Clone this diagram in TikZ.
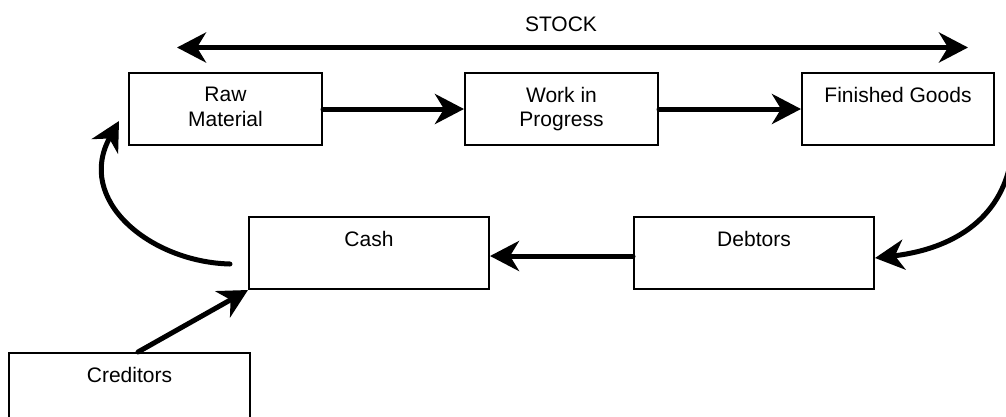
\documentclass[tikz,border=0pt]{standalone}
\usepackage{fontspec}
\setmainfont{Liberation Sans}
\usetikzlibrary{arrows.meta}
\begin{document}
\begin{tikzpicture}[x=1pt,y=-1pt,
  box/.style={draw=black, line width=2pt, rectangle, inner sep=0pt, anchor=north west},
  txt/.style={anchor=north, inner sep=0pt, align=center, font=\fontsize{21}{24.5}\selectfont, yshift=-15pt},
  flow/.style={line width=5pt, line cap=round, -{Stealth[length=29pt,width=30pt,inset=9pt]}},
  both/.style={line width=5pt, {Stealth[length=29pt,width=30pt,inset=9pt]}-{Stealth[length=29pt,width=30pt,inset=9pt]}}]
\clip (0,0) rectangle (1006,416);
\fill[white] (0,0) rectangle (1006,416);
% boxes
\node[box, minimum width=193pt, minimum height=72pt] (raw) at (128,72) {};
\node[box, minimum width=193pt, minimum height=72pt] (wip) at (464,72) {};
\node[box, minimum width=192pt, minimum height=72pt] (fg) at (801,72) {};
\node[box, minimum width=240pt, minimum height=72pt] (cash) at (248,216) {};
\node[box, minimum width=240pt, minimum height=72pt] (deb) at (633,216) {};
\node[box, minimum width=241pt, minimum height=80pt] (cred) at (8,352) {};
% texts
\node[txt] (rawt) at (raw.north) {Raw\\Material};
\node[txt] (wipt) at (wip.north) {Work in\\Progress};
\node[txt] (fgt) at (fg.north) {Finished Goods};
\node[txt] (casht) at (cash.north) {Cash};
\node[txt] (debt) at (deb.north) {Debtors};
\node[txt] (credt) at (cred.north) {Creditors};
\node[anchor=center, inner sep=0pt, font=\fontsize{21}{24.5}\selectfont] (stock) at (561,24) {STOCK};
% coordinates
\coordinate (stL) at (177,47.5);
\coordinate (stR) at (968,47.5);
\coordinate (c1) at (138,352);
\coordinate (a1) at (230,264);
\coordinate (a2) at (119,121);
\coordinate (b1) at (1010,165);
\coordinate (b2) at (875,258);
% connectors
\draw[both] (stL) -- (stR);
\draw[flow] (raw.east) -- (wip.west);
\draw[flow] (wip.east) -- (fg.west);
\draw[flow] ([yshift=-3pt]deb.west) -- ([yshift=-3pt]cash.east);
\draw[flow] (c1) -- (cash.south west);
\draw[flow] (a1) .. controls (150,262) and (75,200) .. (a2);
\draw[flow] (b1) .. controls (997,225) and (945,250) .. (b2);
\end{tikzpicture}
\end{document}
